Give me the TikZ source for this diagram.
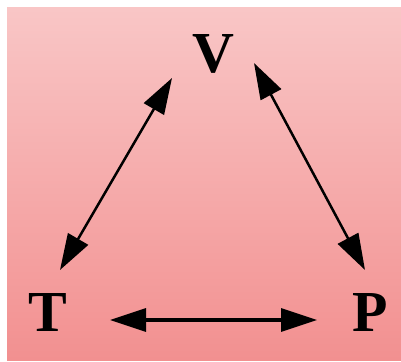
\documentclass[tikz,border=0pt]{standalone}
\usepackage{fontspec}
\setmainfont{Liberation Serif}
\usepackage{tikz}
\usetikzlibrary{arrows.meta}
\definecolor{bg-top}{HTML}{F9C6C6}
\definecolor{bg-bottom}{HTML}{F29090}

\tikzset{
  state/.style={font=\fontsize{58}{60}\selectfont\bfseries, inner sep=0pt},
  both/.style={{Triangle[length=36pt,width=23pt]}-{Triangle[length=36pt,width=23pt]}, line width=2.5pt, black},
}

\begin{document}
\begin{tikzpicture}[x=1pt,y=1pt]
\useasboundingbox (0,0) rectangle (401,361);
\shade[top color=bg-top, bottom color=bg-bottom] (7,1) rectangle (401,353);
\node[state] (V) at (213,307) {V};
\node[state] (T) at (48,48) {T};
\node[state] (P) at (370,48) {P};
\draw[both] ([shift={(12,43)}]T.center) -- ([shift={(-41,-24)}]V.center);
\draw[both] ([shift={(41,-9)}]V.center) -- ([shift={(-5,43)}]P.center);
\draw[both, line width=3.5pt] ([shift={(62,-7)}]T.center) -- ([shift={(-53,-7)}]P.center);
\end{tikzpicture}
\end{document}
